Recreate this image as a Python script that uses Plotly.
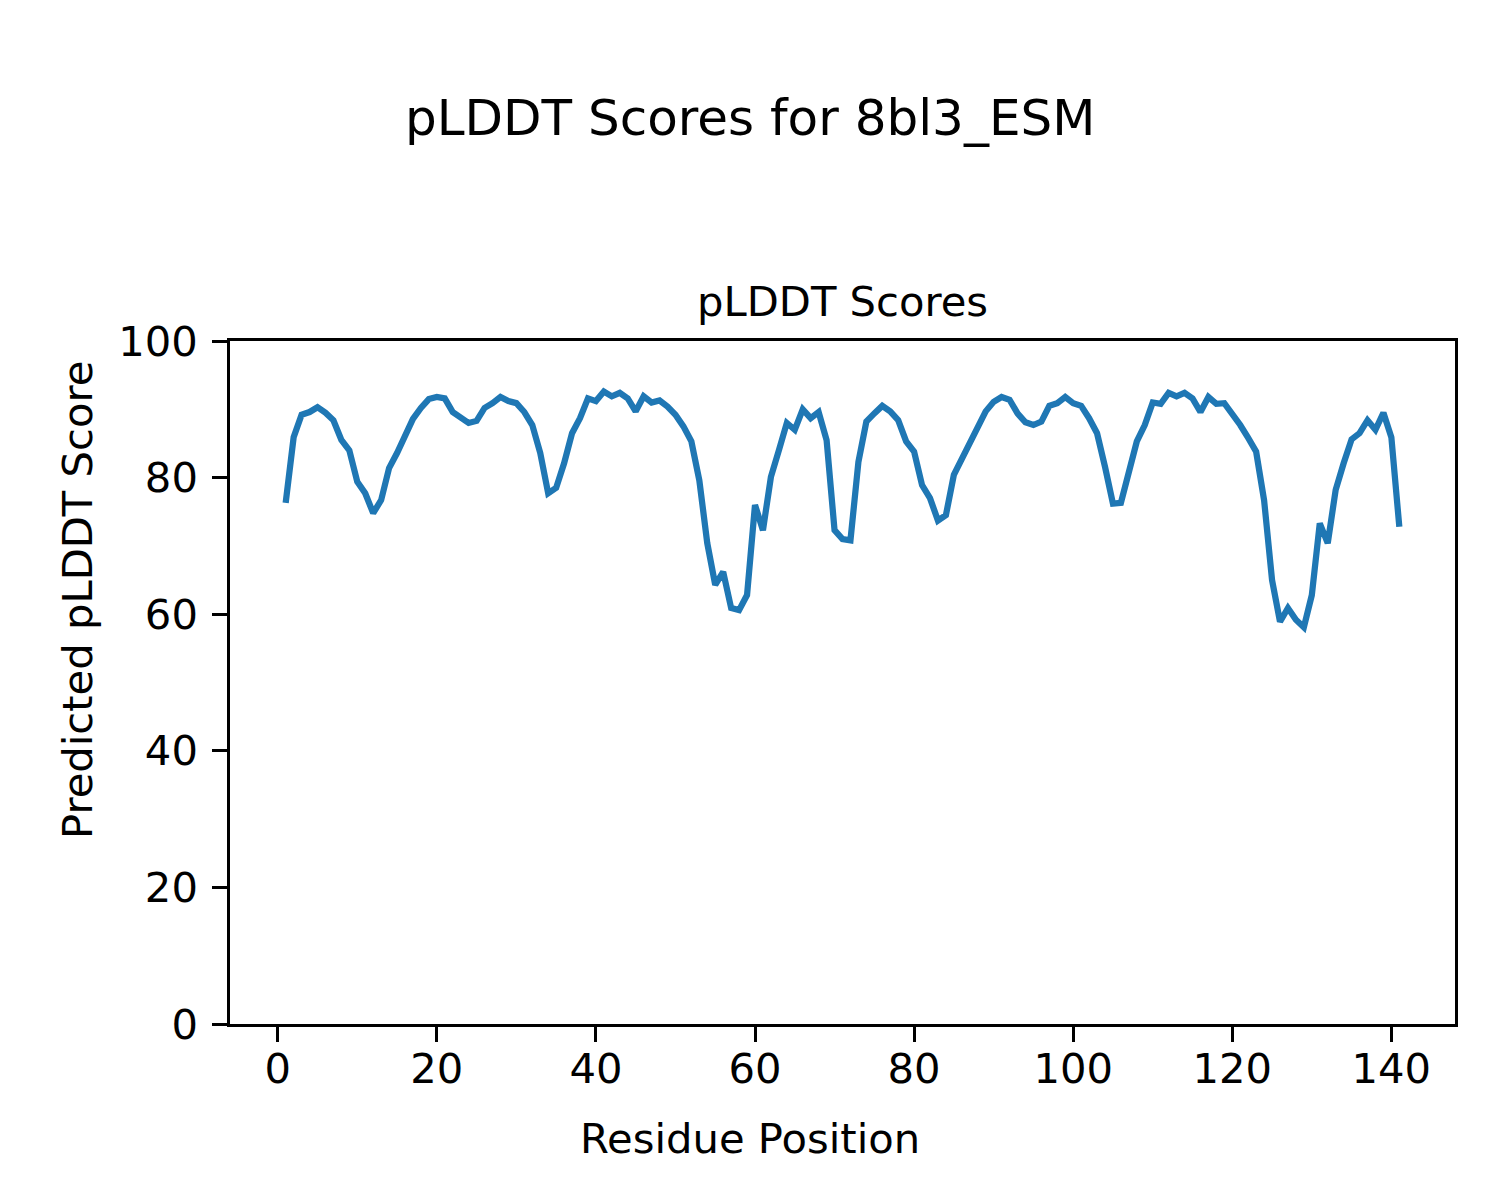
import plotly.graph_objects as go

residues = list(range(1, 142))
plddt = [
    76.3, 85.9, 89.2, 89.6, 90.3, 89.5, 88.4, 85.5, 84.0, 79.4,
    77.7, 74.8, 76.7, 81.4, 83.6, 85.9, 88.6, 90.2, 91.5, 91.8,
    91.6, 89.6, 88.7, 88.0, 88.3, 90.2, 90.9, 91.8, 91.2, 90.9,
    89.6, 87.7, 83.6, 77.7, 78.5, 82.1, 86.5, 88.7, 91.6, 91.2,
    92.6, 91.9, 92.4, 91.6, 89.7, 91.9, 91.0, 91.3, 90.4, 89.2,
    87.5, 85.3, 79.6, 70.4, 64.3, 66.2, 60.9, 60.6, 62.8, 76.0,
    72.3, 80.1, 84.0, 88.0, 87.0, 90.0, 88.7, 89.6, 85.5, 72.3,
    71.0, 70.8, 82.3, 88.2, 89.4, 90.5, 89.7, 88.4, 85.3, 83.8,
    78.9, 77.0, 73.7, 74.5, 80.4, 82.8, 85.3, 87.5, 89.7, 91.1,
    91.8, 91.4, 89.4, 88.1, 87.7, 88.2, 90.5, 90.9, 91.8, 90.9,
    90.5, 88.7, 86.5, 81.6, 76.2, 76.3, 81.1, 85.3, 87.7, 91.0,
    90.8, 92.4, 91.9, 92.4, 91.6, 89.6, 91.8, 90.8, 90.9, 89.4,
    87.7, 85.8, 83.8, 76.7, 65.0, 58.9, 60.9, 59.2, 58.1, 62.8,
    73.3, 70.4, 78.2, 82.1, 85.6, 86.5, 88.4, 87.0, 89.5, 85.9,
    72.8,
]
x_ticks = [0, 20, 40, 60, 80, 100, 120, 140]
y_ticks = [0, 20, 40, 60, 80, 100]

suptitle = "pLDDT Scores for 8bl3_ESM"
ax_title = "pLDDT Scores"
x_label = "Residue Position"
y_label = "Predicted pLDDT Score"

W, H = 1500, 1200
OFF = 8  # page body margin
L, T = 230 - OFF, 341 - OFF
PW, PH = 1225, 683
R, B = W - L - PW, H - T - PH
FONT = "DejaVu Sans"
BLACK = "#000000"


def px(xp):
    return (xp - OFF - L) / PW


def py(yp):
    return (H - B - (yp - OFF)) / PH


fig = go.Figure()
fig.add_trace(go.Scatter(
    x=residues, y=plddt, mode="lines",
    line=dict(color="#1f77b4", width=6.25),
    showlegend=False, hoverinfo="skip",
))

axis_common = dict(
    showgrid=False, zeroline=False,
    showline=True, linecolor=BLACK, linewidth=3.3, mirror=True,
    ticks="outside", ticklen=14.6, tickwidth=3.3, tickcolor=BLACK,
    tickfont=dict(family=FONT, size=41.7, color=BLACK),
)

fig.update_xaxes(range=[-6, 148], tickvals=x_ticks, ticklabelstandoff=-9, **axis_common)
fig.update_yaxes(range=[0, 100], tickvals=y_ticks, ticklabelstandoff=6, **axis_common)

annotations = [
    dict(text=suptitle, x=px(750), y=py(118), font=dict(size=50, family=FONT, color=BLACK)),
    dict(text=ax_title, x=px(842), y=py(302), font=dict(size=41.7, family=FONT, color=BLACK)),
    dict(text=x_label, x=px(750), y=py(1138), font=dict(size=41.7, family=FONT, color=BLACK)),
    dict(text=y_label, x=px(77), y=py(600), textangle=-90, font=dict(size=41.7, family=FONT, color=BLACK)),
]
for a in annotations:
    a.update(xref="paper", yref="paper", xanchor="center", yanchor="middle", showarrow=False)

fig.update_layout(
    width=W, height=H,
    margin=dict(l=L, r=R, t=T, b=B, pad=0),
    paper_bgcolor="white", plot_bgcolor="white",
    annotations=annotations,
)

fig.write_html("out.html")
